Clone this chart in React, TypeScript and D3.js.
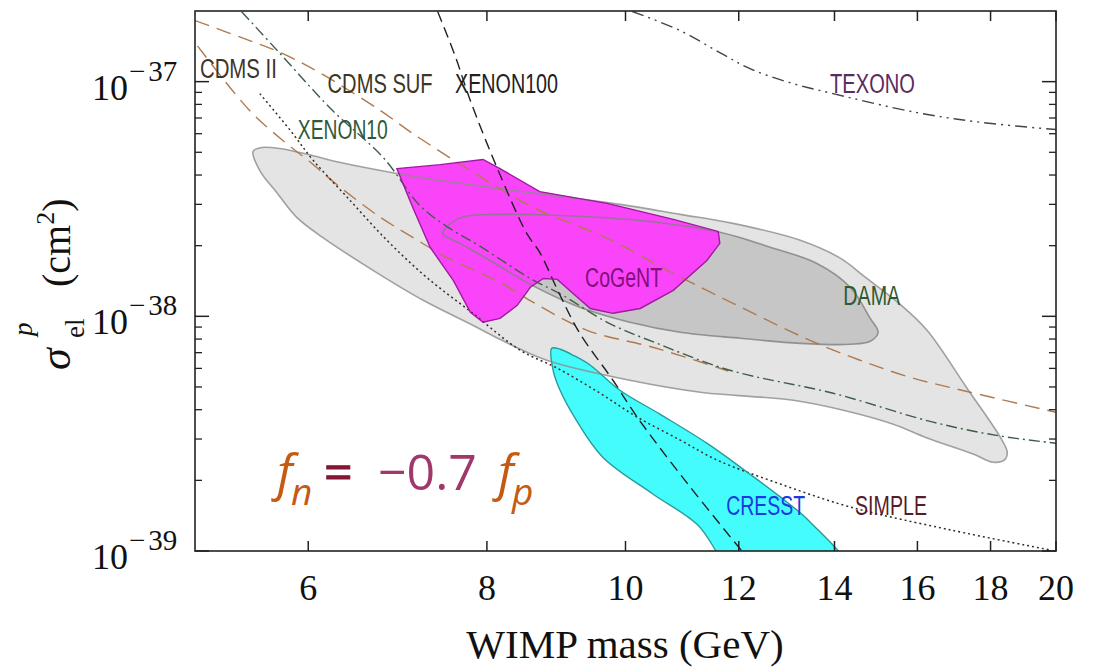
import React from "react";
import * as d3 from "d3";

// cross-section values are in units of 1e-38 cm^2, masses in GeV
const UNIT = 1e-38;

const damaOuter = [
  [5.49, 5.04], [5.57, 5.24], [5.73, 5.19], [6.0, 4.89], [6.32, 4.52], [6.92, 4.06],
  [7.42, 3.79], [8.17, 3.5], [9.0, 3.24], [9.91, 3.0], [10.92, 2.72], [11.89, 2.49],
  [13.25, 2.11], [14.13, 1.77], [14.75, 1.45], [15.56, 1.125], [16.25, 0.872],
  [17.33, 0.494], [18.28, 0.306], [18.49, 0.264], [18.4, 0.244], [18.07, 0.239],
  [17.5, 0.259], [16.25, 0.303], [15.39, 0.347], [14.2, 0.398], [13.1, 0.439],
  [11.28, 0.475], [10.07, 0.534], [8.81, 0.65], [8.17, 0.798], [7.82, 0.916],
  [7.22, 1.17], [6.66, 1.57], [6.14, 2.17], [5.89, 2.64], [5.71, 3.34], [5.55, 4.18],
];

const damaInner = [
  [7.45, 2.255], [7.56, 2.51], [7.72, 2.665], [8.17, 2.72], [9.0, 2.69], [10.24, 2.56],
  [11.64, 2.28], [12.56, 1.99], [13.61, 1.68], [14.36, 1.33], [14.83, 0.98],
  [15.02, 0.855], [14.83, 0.783], [14.36, 0.76], [13.25, 0.767], [12.03, 0.806],
  [10.92, 0.855], [10.07, 0.943], [9.29, 1.092], [8.58, 1.368], [8.04, 1.73], [7.66, 2.045],
];

const cogent = [
  [6.92, 4.26], [7.42, 4.43], [7.95, 4.66], [8.17, 4.26], [8.71, 3.4], [9.71, 3.03],
  [10.8, 2.59], [11.61, 2.3], [11.64, 2.045], [11.4, 1.73], [10.8, 1.29], [10.24, 1.08],
  [9.8, 1.03], [9.45, 1.08], [9.19, 1.25], [8.96, 1.437], [8.76, 1.45], [8.58, 1.33],
  [8.4, 1.114], [8.17, 0.98], [7.95, 0.943], [7.79, 1.04], [7.58, 1.42], [7.3, 1.97],
  [7.1, 2.91],
];

const cresst = [
  [8.88, 0.731], [9.0, 0.724], [9.22, 0.676], [9.45, 0.619], [9.91, 0.484],
  [10.57, 0.383], [11.4, 0.288], [12.16, 0.217], [12.83, 0.17], [13.46, 0.133],
  [14.36, 0.08], [11.99, 0.08], [11.22, 0.13], [10.45, 0.175], [9.64, 0.251],
  [9.22, 0.368], [9.0, 0.484], [8.9, 0.589],
];

const cdmsSuf = [
  [5.0, 18.2], [5.46, 14.95], [5.76, 13.16], [6.11, 10.92], [6.74, 7.53], [7.1, 6.01],
  [7.79, 4.18], [8.62, 2.91], [9.71, 2.15], [10.8, 1.524], [11.89, 1.136], [13.46, 0.79],
  [14.59, 0.65], [15.81, 0.55], [17.42, 0.475], [20.0, 0.39],
];

const cdmsII = [
  [5.02, 14.2], [5.46, 7.53], [5.76, 5.61], [6.0, 4.61], [6.32, 3.54], [6.74, 2.64],
  [7.1, 2.17], [7.5, 1.78], [8.17, 1.395], [8.62, 1.147], [9.4, 0.872], [10.45, 0.738],
  [11.8, 0.585],
];

const xenon10 = [
  [5.39, 19.86], [5.71, 13.55], [6.24, 7.53], [6.77, 4.75], [7.18, 2.97], [7.5, 2.415],
  [7.91, 1.99], [8.58, 1.45], [9.04, 1.229], [9.71, 0.943], [10.52, 0.767], [11.83, 0.589],
  [13.97, 0.47], [16.41, 0.354], [18.28, 0.309], [20.0, 0.288],
];

const xenon100 = [
  [7.39, 19.9], [7.6, 12.9], [7.79, 8.3], [8.13, 4.31], [8.53, 2.255], [8.71, 1.872],
  [9.0, 1.229], [9.29, 0.847], [9.8, 0.534], [10.19, 0.372], [11.04, 0.195], [12.06, 0.1],
];

const texono = [
  [10.11, 19.9], [10.92, 16.5], [11.64, 13.3], [12.22, 11.36], [13.03, 9.9],
  [13.97, 8.89], [15.99, 7.38], [17.79, 6.69], [20.0, 6.25],
];

const simple = [
  [5.55, 8.89], [5.83, 6.19], [6.05, 4.61], [6.39, 3.21], [6.81, 2.11], [7.26, 1.466],
  [7.82, 1.03], [8.44, 0.717], [8.96, 0.601], [9.6, 0.47], [10.19, 0.372], [10.92, 0.297],
  [11.59, 0.244], [12.83, 0.193], [14.36, 0.154], [16.87, 0.123], [19.81, 0.101],
];

const xTicks = [6, 8, 10, 12, 14, 16, 18, 20];
const yMajor = [1e-39, 1e-38, 1e-37];
const yExponents = ["39", "38", "37"];

const labels = [
  { text: "CDMS II", x: 5.04, y: 10.4, len: 77, color: "#3d352d" },
  { text: "CDMS SUF", x: 6.19, y: 8.98, len: 105, color: "#3d3525" },
  { text: "XENON100", x: 7.6, y: 8.98, len: 103, color: "#202020" },
  { text: "XENON10", x: 5.9, y: 5.72, len: 90, color: "#2d5a3a" },
  { text: "TEXONO", x: 13.9, y: 8.98, len: 85, color: "#5a2a62" },
  { text: "CoGeNT", x: 9.37, y: 1.33, len: 77, color: "#80107a" },
  { text: "DAMA", x: 14.2, y: 1.114, len: 57, color: "#2e5a2e" },
  { text: "CRESST", x: 11.76, y: 0.142, len: 79, color: "#1a3ae0" },
  { text: "SIMPLE", x: 14.47, y: 0.142, len: 72, color: "#5a1a2a" },
];

const W = 1097;
const H = 669;
const margin = { left: 195, right: 41, top: 11, bottom: 118 };

export default function App() {
  const x = d3.scaleLog().domain([5, 20]).range([margin.left, W - margin.right]);
  const y = d3.scaleLog().domain([1e-39, 2e-37]).range([H - margin.bottom, margin.top]);
  const x0 = margin.left;
  const x1 = W - margin.right;
  const y0 = H - margin.bottom;
  const y1 = margin.top;

  const smooth = d3
    .line<number[]>()
    .x((d) => x(d[0]))
    .y((d) => y(d[1] * UNIT))
    .curve(d3.curveCatmullRom.alpha(0.5));
  const smoothClosed = d3
    .line<number[]>()
    .x((d) => x(d[0]))
    .y((d) => y(d[1] * UNIT))
    .curve(d3.curveCatmullRomClosed.alpha(0.5));
  const linearClosed = d3
    .line<number[]>()
    .x((d) => x(d[0]))
    .y((d) => y(d[1] * UNIT))
    .curve(d3.curveLinearClosed);

  const minor: number[] = [];
  [1e-39, 1e-38].forEach((b) => {
    for (let k = 2; k <= 9; k++) minor.push(k * b);
  });

  const serif = "'Liberation Serif', 'DejaVu Serif', serif";
  const sans = "'Liberation Sans', Arial, sans-serif";
  const eqFont = "'Open Sans', 'Noto Sans', sans-serif";

  return (
    <svg
      width={W}
      height={H}
      style={{ position: "absolute", left: 0, top: 0, background: "#fff" }}
    >
      <defs>
        <clipPath id="plot">
          <rect x={x0} y={y1} width={x1 - x0} height={y0 - y1} />
        </clipPath>
      </defs>

      <g clipPath="url(#plot)">
        {/* region fills */}
        <path d={smoothClosed(damaOuter) || ""} fill="#e4e4e4" stroke="none" />
        <path d={smoothClosed(damaInner) || ""} fill="#c6c6c6" stroke="none" />
        <path d={linearClosed(cogent) || ""} fill="#fa44fa" stroke="none" />
        <path d={smoothClosed(cresst) || ""} fill="#44fcfc" stroke="none" />

        {/* DAMA outlines show through the other regions */}
        <path d={smoothClosed(damaOuter) || ""} fill="none" stroke="#8c8c8c" strokeOpacity={0.8} strokeWidth={1.6} />
        <path d={smoothClosed(damaInner) || ""} fill="none" stroke="#7f7f7f" strokeOpacity={0.8} strokeWidth={1.6} />

        {/* exclusion limits */}
        <path d={smooth(cdmsSuf) || ""} fill="none" stroke="#b07a4f" strokeWidth={1.4} strokeDasharray="15,8" />
        <path d={smooth(cdmsII) || ""} fill="none" stroke="#b07a4f" strokeWidth={1.4} strokeDasharray="15,8" />
        <path d={smooth(xenon10) || ""} fill="none" stroke="#3d5e45" strokeWidth={1.4} strokeDasharray="11,4,2,4" />
        <path d={smooth(xenon100) || ""} fill="none" stroke="#222" strokeWidth={1.4} strokeDasharray="11,6" />
        <path d={smooth(texono) || ""} fill="none" stroke="#444" strokeWidth={1.4} strokeDasharray="12,5,2,5,2,5" />
        <path d={smooth(simple) || ""} fill="none" stroke="#3a2a2a" strokeWidth={1.5} strokeDasharray="2,3" />

        <path d={linearClosed(cogent) || ""} fill="none" stroke="#a01aa0" strokeWidth={1.4} />
        <path d={smoothClosed(cresst) || ""} fill="none" stroke="#2a9a9a" strokeWidth={1.4} />
      </g>

      {/* frame and ticks */}
      <rect x={x0} y={y1} width={x1 - x0} height={y0 - y1} fill="none" stroke="#222" strokeWidth={1.6} />
      {xTicks.map((t) => (
        <g key={"xt" + t}>
          <line x1={x(t)} x2={x(t)} y1={y0} y2={y0 - 10} stroke="#222" strokeWidth={1.5} />
          <line x1={x(t)} x2={x(t)} y1={y1} y2={y1 + 10} stroke="#222" strokeWidth={1.5} />
          <text x={x(t)} y={600} textAnchor="middle" fontFamily={serif} fontSize={36} fill="#111">
            {t}
          </text>
        </g>
      ))}
      {yMajor.map((t, i) => (
        <g key={"ym" + i}>
          <line x1={x0} x2={x0 + 14} y1={y(t)} y2={y(t)} stroke="#222" strokeWidth={1.5} />
          <line x1={x1} x2={x1 - 14} y1={y(t)} y2={y(t)} stroke="#222" strokeWidth={1.5} />
          <text x={92} y={y(t) + 18} fontFamily={serif} fontSize={36} fill="#111">
            10
          </text>
          <text x={129} y={y(t) - 1} fontFamily={serif} fontSize={29} fill="#111">
            {"\u2212"}
            <tspan dx={3}>{yExponents[i]}</tspan>
          </text>
        </g>
      ))}
      {minor.map((t, i) => (
        <g key={"yn" + i}>
          <line x1={x0} x2={x0 + 7} y1={y(t)} y2={y(t)} stroke="#222" strokeWidth={1.3} />
          <line x1={x1} x2={x1 - 7} y1={y(t)} y2={y(t)} stroke="#222" strokeWidth={1.3} />
        </g>
      ))}

      {/* axis titles */}
      <text x={625} y={658} textAnchor="middle" fontFamily={serif} fontSize={41} fill="#111">
        WIMP mass (GeV)
      </text>
      <g transform="translate(70,370) rotate(-90)" fontFamily={serif} fill="#111">
        <text x={0} y={0} fontSize={44} fontStyle="italic">{"\u03c3"}</text>
        <text x={32} y={14} fontSize={27}>el</text>
        <text x={34} y={-38} fontSize={27} fontStyle="italic">p</text>
        <text x={83} y={0} fontSize={40}>
          (cm
          <tspan fontSize={26} dy={-16}>2</tspan>
          <tspan fontSize={40} dy={16}>)</tspan>
        </text>
      </g>

      {/* experiment labels */}
      {labels.map((l) => (
        <text
          key={l.text}
          x={x(l.x)}
          y={y(l.y * UNIT)}
          fontFamily={sans}
          fontSize={27}
          fill={l.color}
          textLength={l.len}
          lengthAdjust="spacingAndGlyphs"
        >
          {l.text}
        </text>
      ))}

      {/* coupling ratio annotation */}
      <g fontFamily={eqFont}>
        <text x={277} y={490} fontSize={50} fontStyle="italic" fill="#c55a11">f</text>
        <text x={291} y={505} fontSize={37} fontStyle="italic" fill="#c55a11">n</text>
        <text x={324} y={490} fontSize={50} fill="#861634" stroke="#861634" strokeWidth={1.2}>=</text>
        <text x={378} y={490} fontSize={50} fill="#a0386b">{"\u22120.7"}</text>
        <text x={498} y={490} fontSize={50} fontStyle="italic" fill="#c55a11">f</text>
        <text x={512} y={505} fontSize={37} fontStyle="italic" fill="#c55a11">p</text>
      </g>
    </svg>
  );
}
